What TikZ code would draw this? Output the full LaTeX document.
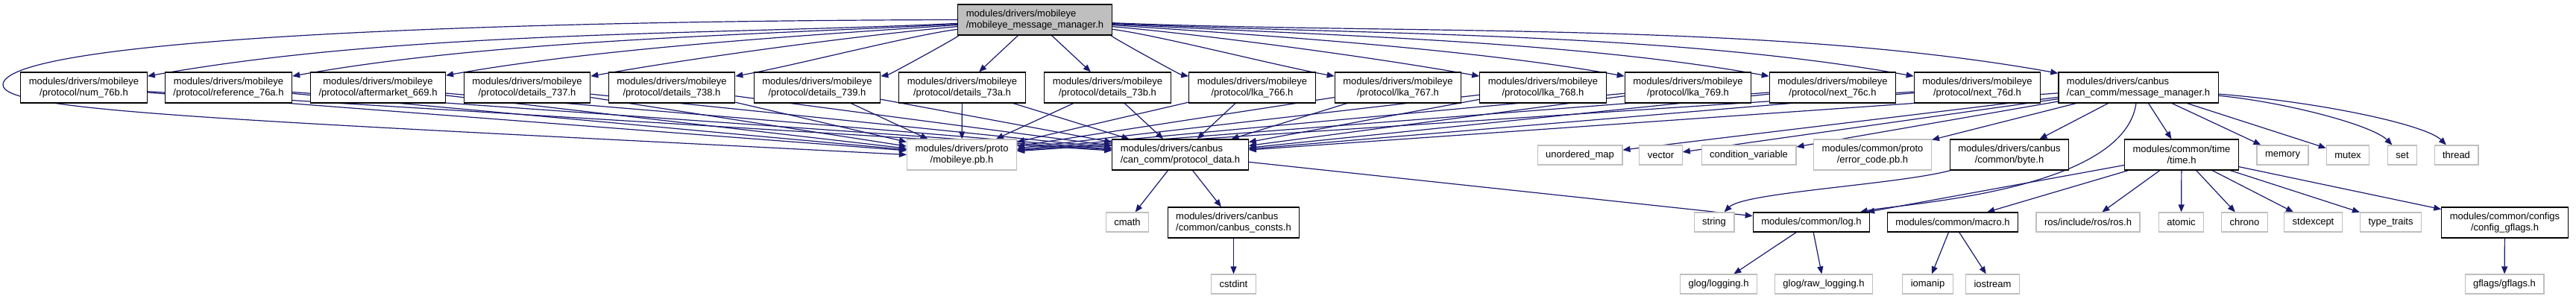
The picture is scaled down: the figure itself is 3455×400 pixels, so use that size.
\documentclass[tikz,border=0pt]{standalone}
\usepackage{fontspec}
\setmainfont{Liberation Sans}
\usetikzlibrary{arrows.meta, backgrounds}
\definecolor{dxedge}{HTML}{191970}
\definecolor{dxgray}{HTML}{BFBFBF}
\tikzset{
  dxfile/.style={draw=black, line width=1.2pt, fill=white, inner xsep=11pt,
                 inner ysep=0pt, minimum height=41pt, align=center,
                 font=\fontsize{13}{15}\selectfont},
  dxfileL/.style={dxfile, align=left},
  dxone/.style={dxfile, minimum height=26pt},
  dxsys/.style={dxone, draw=dxgray},
  dxsys2/.style={dxfile, draw=dxgray},
  dxmain/.style={dxfileL, fill=dxgray},
  incl/.style={draw=dxedge, line width=1.2pt, -{Triangle[length=10pt,width=8pt]}},
}
\begin{document}
\begin{tikzpicture}[x=1pt, y=1pt]
  \useasboundingbox (0,0) rectangle (3455,-400);
  %% Root header ─────────────────────────────────────────────
  \node[dxmain] (main) at (1388,-26.5)
    {modules/drivers/mobileye\\/mobileye\_message\_manager.h};
  %% Protocol headers ────────────────────────────────────────
  \node[dxfile] (num76b) at (112.5,-117.5) {modules/drivers/mobileye\\/protocol/num\_76b.h};
  \node[dxfile] (ref76a) at (306.5,-117.5) {modules/drivers/mobileye\\/protocol/reference\_76a.h};
  \node[dxfile] (aft669) at (507,-117.5) {modules/drivers/mobileye\\/protocol/aftermarket\_669.h};
  \node[dxfile] (det737) at (707,-117.5) {modules/drivers/mobileye\\/protocol/details\_737.h};
  \node[dxfile] (det738) at (901,-117.5) {modules/drivers/mobileye\\/protocol/details\_738.h};
  \node[dxfile] (det739) at (1096,-117.5) {modules/drivers/mobileye\\/protocol/details\_739.h};
  \node[dxfile] (det73a) at (1290.5,-117.5) {modules/drivers/mobileye\\/protocol/details\_73a.h};
  \node[dxfile] (det73b) at (1485.5,-117.5) {modules/drivers/mobileye\\/protocol/details\_73b.h};
  \node[dxfile] (lka766) at (1679.5,-117.5) {modules/drivers/mobileye\\/protocol/lka\_766.h};
  \node[dxfile] (lka767) at (1875,-117.5) {modules/drivers/mobileye\\/protocol/lka\_767.h};
  \node[dxfile] (lka768) at (2069.5,-117.5) {modules/drivers/mobileye\\/protocol/lka\_768.h};
  \node[dxfile] (lka769) at (2264,-117.5) {modules/drivers/mobileye\\/protocol/lka\_769.h};
  \node[dxfile] (nxt76c) at (2458,-117.5) {modules/drivers/mobileye\\/protocol/next\_76c.h};
  \node[dxfile] (nxt76d) at (2652,-117.5) {modules/drivers/mobileye\\/protocol/next\_76d.h};
  \node[dxfileL] (mm) at (2868,-117.5) {modules/drivers/canbus\\/can\_comm/message\_manager.h};
  %% Second row ──────────────────────────────────────────────
  \node[dxsys2] (pb) at (1290,-207.5) {modules/drivers/proto\\/mobileye.pb.h};
  \node[dxfileL] (pd) at (1583,-207.5) {modules/drivers/canbus\\/can\_comm/protocol\_data.h};
  \node[dxsys] (umap) at (2119,-208) {unordered\_map};
  \node[dxsys] (vec) at (2227.5,-208) {vector};
  \node[dxsys] (condvar) at (2345.5,-208) {condition\_variable};
  \node[dxsys2] (errc) at (2511.5,-207.5) {modules/common/proto\\/error\_code.pb.h};
  \node[dxfile] (byte) at (2695,-207.5) {modules/drivers/canbus\\/common/byte.h};
  \node[dxfile] (time) at (2926,-207.5) {modules/common/time\\/time.h};
  \node[dxsys] (memory) at (3061.5,-208) {memory};
  \node[dxsys] (mutex) at (3149,-208) {mutex};
  \node[dxsys] (set) at (3222,-208) {set};
  \node[dxsys] (thread) at (3294.5,-208) {thread};
  %% Third row ───────────────────────────────────────────────
  \node[dxsys] (cmath) at (1512,-298) {cmath};
  \node[dxfileL] (consts) at (1654.5,-298.5) {modules/drivers/canbus\\/common/canbus\_consts.h};
  \node[dxsys] (string) at (2299,-298) {string};
  \node[dxone] (log) at (2429.5,-298) {modules/common/log.h};
  \node[dxone] (macro) at (2619,-298) {modules/common/macro.h};
  \node[dxsys] (ros) at (2800.5,-298) {ros/include/ros/ros.h};
  \node[dxsys] (atomic) at (2925.5,-298) {atomic};
  \node[dxsys] (chrono) at (3010.5,-298) {chrono};
  \node[dxsys] (stdexc) at (3102.5,-298) {stdexcept};
  \node[dxsys] (typetr) at (3206.5,-298) {type\_traits};
  \node[dxfile] (cfg) at (3359.5,-298.5) {modules/common/configs\\/config\_gflags.h};
  %% Bottom row ──────────────────────────────────────────────
  \node[dxsys] (cstdint) at (1654.5,-381) {cstdint};
  \node[dxsys] (glog) at (2305,-381) {glog/logging.h};
  \node[dxsys] (rawlog) at (2446,-381) {glog/raw\_logging.h};
  \node[dxsys] (iomanip) at (2585.5,-381) {iomanip};
  \node[dxsys] (iostream) at (2672.5,-381) {iostream};
  \node[dxsys] (gflags) at (3359,-381) {gflags/gflags.h};
  \coordinate (lloop) at (4,-113);

  \begin{scope}[on background layer]
    %% includes of the root header
    \foreach \n/\a in {num76b/-425, ref76a/-360, aft669/-294, det737/-227,
                       det738/-162, det739/-97, lka766/97, lka767/162,
                       lka768/227, lka769/292, nxt76c/357, nxt76d/421, mm/493}
      \draw[incl] (main) .. controls +(\a,-20) and +({-\a},{0.18*abs(\a)}) .. (\n);
    \draw[incl] (main) -- (det73a);
    \draw[incl] (main) -- (det73b);
    \draw[incl] (main.west) .. controls (600,-28) and (10,-55) .. (lloop)
                .. controls (0,-150) and (300,-160) .. (pb.west);
    %% every protocol header pulls in the proto and protocol_data
    \foreach \n in {num76b, ref76a, aft669, det737, det738, det739, det73a,
                    det73b, lka766, lka767, lka768, lka769, nxt76c, nxt76d} {
      \draw[incl] (\n) -- (pb);
      \draw[incl] (\n) -- (pd);
    }
    %% message_manager.h
    \foreach \n in {pd, umap, vec, condvar, errc, byte, time, memory, mutex}
      \draw[incl] (mm) -- (\n);
    \draw[incl] (mm) .. controls +(200,-20) and +(-40,40) .. (set);
    \draw[incl] (mm) .. controls +(250,-20) and +(-40,40) .. (thread);
    \draw[incl] (mm) .. controls +(-20,-140) and +(120,25) .. (log);
    %% protocol_data.h and the rest
    \draw[incl] (pd) -- (cmath);
    \draw[incl] (pd) -- (consts);
    \draw[incl] (pd) -- (log);
    \draw[incl] (consts) -- (cstdint);
    \draw[incl] (byte) .. controls +(-150,-40) and +(40,40) .. (string);
    \foreach \n in {log, macro, ros, atomic, chrono, stdexc, typetr, cfg}
      \draw[incl] (time) -- (\n);
    \draw[incl] (log) -- (glog);
    \draw[incl] (log) -- (rawlog);
    \draw[incl] (macro) -- (iomanip);
    \draw[incl] (macro) -- (iostream);
    \draw[incl] (cfg) -- (gflags);
  \end{scope}
\end{tikzpicture}
\end{document}
